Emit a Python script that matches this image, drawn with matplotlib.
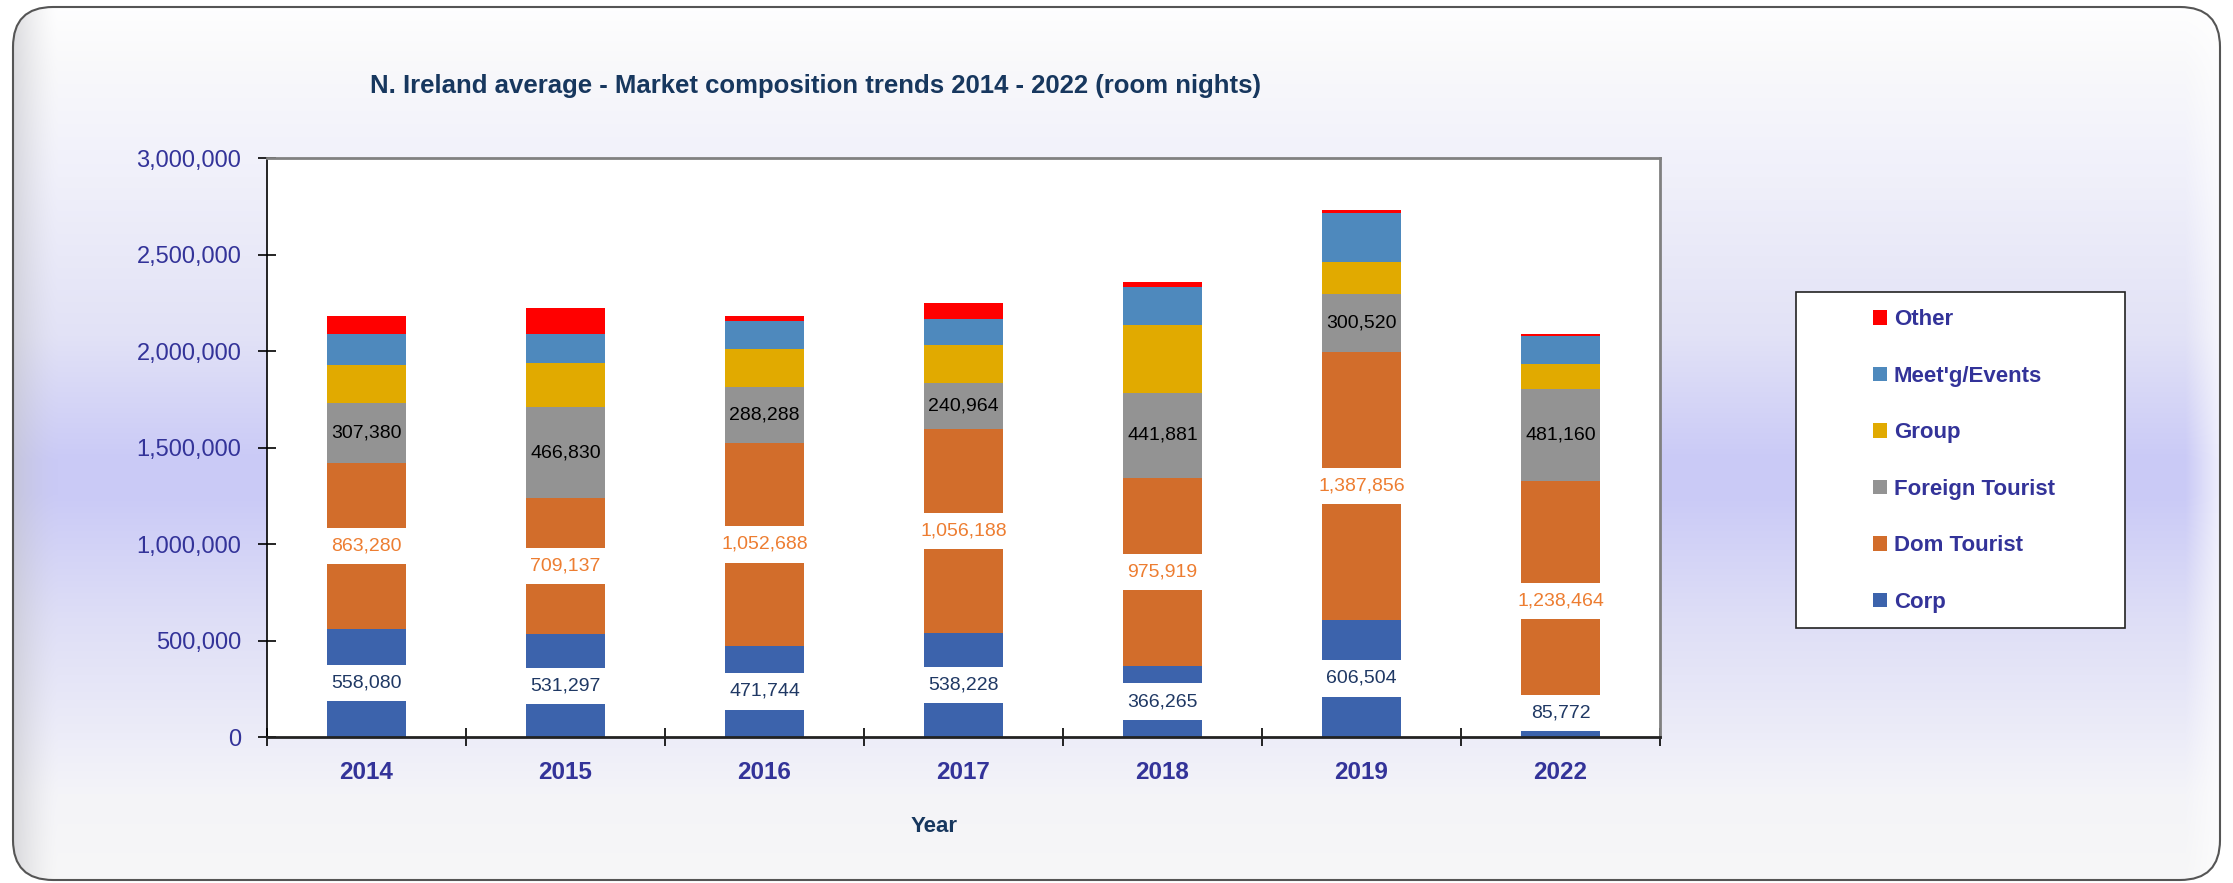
import numpy as np
import matplotlib.pyplot as plt
from matplotlib.patches import FancyBboxPatch, Rectangle
from matplotlib.ticker import FuncFormatter

plt.rcParams['font.family'] = ['Liberation Sans', 'DejaVu Sans']

# data (room nights) - labelled series, the rest
years = ['2014', '2015', '2016', '2017', '2018', '2019', '2022']
corp = [558080, 531297, 471744, 538228, 366265, 606504, 85772]
dom_tourist = [863280, 709137, 1052688, 1056188, 975919, 1387856, 1238464]
foreign_tourist = [307380, 466830, 288288, 240964, 441881, 300520, 481160]
group = [201000, 230000, 200000, 196000, 350000, 167000, 125000]
meetings = [156000, 153000, 143000, 136000, 200000, 254000, 148000]
other = [94000, 132000, 26000, 83000, 26000, 16000, 10000]

series = [
    ('Corp', corp, '#3C63AC'),
    ('Dom Tourist', dom_tourist, '#D26D2B'),
    ('Foreign Tourist', foreign_tourist, '#939393'),
    ('Group', group, '#E1AA00'),
    ("Meet'g/Events", meetings, '#4E89BD'),
    ('Other', other, '#FF0000'),
]

W, H = 2233, 883
fig = plt.figure(figsize=(W / 100, H / 100), dpi=100)
fig.patch.set_facecolor('white')

# background panel with lavender band
bg = fig.add_axes([0, 0, 1, 1], zorder=-10)
bg.set_xlim(0, W)
bg.set_ylim(H, 0)
bg.axis('off')
ys = np.linspace(0, 1, H)
stops = [0.0, 0.08, 0.2, 0.38, 0.52, 0.56, 0.70, 0.83, 0.9, 1.0]
rgb = [(255, 255, 255), (248, 248, 250), (240, 240, 250), (226, 226, 246), (202, 202, 246),
       (202, 202, 246), (222, 222, 246), (236, 236, 248), (244, 244, 248), (247, 247, 247)]
col = np.stack([np.interp(ys, stops, [c[i] for c in rgb]) for i in range(3)], axis=-1) / 255
img = np.repeat(col[:, None, :], W, axis=1)
xs = np.arange(W)
wl = (np.clip(1 - (xs - 13) / 45, 0, 1) ** 1.5 * 0.55)[None, :, None]
img = img * (1 - wl) + np.array([0.76, 0.76, 0.78]) * wl
wr = (np.clip((xs - 2185) / 35, 0, 1) * 0.7)[None, :, None]
img = img * (1 - wr) + wr
frame = FancyBboxPatch((13, 7), 2207, 873, boxstyle='round,pad=0,rounding_size=40',
                       fc='none', ec='#555555', lw=1.5)
bg.add_patch(frame)
im = bg.imshow(img, extent=[0, W, H, 0], aspect='auto', interpolation='bilinear')
im.set_clip_path(frame)
bg.add_patch(Rectangle((1796, 292), 329, 336, fc='white', ec='#222222', lw=1.2))

# main chart
ax = fig.add_axes([267 / W, 1 - 737 / H, (1660 - 267) / W, (737 - 158) / H])
ax.set_facecolor('white')
x = np.arange(len(years))
bottom = np.zeros(len(years))
handles = []
for name, vals, color in series:
    b = ax.bar(x, vals, 0.4, bottom=bottom, color=color, label=name, zorder=2)
    handles.append(b)
    vals = np.array(vals)
    if name == 'Corp':
        for xi, v, bo in zip(x, vals, bottom):
            ax.text(xi, bo + max(v / 2, 125000), f'{v:,}', ha='center', va='center',
                    fontsize=14, color='#1F3864', zorder=4,
                    bbox=dict(boxstyle='square,pad=0.5', fc='white', ec='none'))
    elif name == 'Dom Tourist':
        for xi, v, bo in zip(x, vals, bottom):
            ax.text(xi, bo + v / 2, f'{v:,}', ha='center', va='center',
                    fontsize=14, color='#ED7D31', zorder=4,
                    bbox=dict(boxstyle='square,pad=0.5', fc='white', ec='none'))
    elif name == 'Foreign Tourist':
        for xi, v, bo in zip(x, vals, bottom):
            ax.text(xi, bo + v / 2, f'{v:,}', ha='center', va='center',
                    fontsize=14, color='black', zorder=4)
    bottom += vals

ax.set_xlim(-0.5, len(years) - 0.5)
ax.set_ylim(0, 3000000)
ax.set_yticks(np.arange(0, 3000001, 500000))
ax.yaxis.set_major_formatter(FuncFormatter(lambda v, p: f'{int(v):,}'))
ax.tick_params(axis='y', direction='inout', length=13, width=1.2, pad=12,
               labelsize=17, labelcolor='#333399')
ax.set_xticks(x)
ax.set_xticklabels(years, fontsize=17.5, fontweight='bold', color='#333399')
ax.set_xticks(np.arange(-0.5, len(years), 1), minor=True)
ax.tick_params(axis='x', which='major', length=0, pad=17)
ax.tick_params(axis='x', which='minor', direction='inout', length=13, width=1.2)

for s in ['top', 'right']:
    ax.spines[s].set_color('#808080')
    ax.spines[s].set_linewidth(2)
ax.spines['left'].set_color('black')
ax.spines['left'].set_linewidth(1.2)
ax.spines['bottom'].set_color('#222222')
ax.spines['bottom'].set_linewidth(2)

fig.text(815 / W, 1 - 86 / H, 'N. Ireland average - Market composition trends 2014 - 2022 (room nights)',
         ha='center', va='center', fontsize=18.5, fontweight='bold', color='#17375E')
fig.text(934 / W, 1 - 826 / H, 'Year', ha='center', va='center',
         fontsize=16, fontweight='bold', color='#17375E')

fig.legend(handles[::-1], [s[0] for s in series][::-1], loc='center',
           bbox_to_anchor=(1964 / W, 1 - 461 / H), bbox_transform=fig.transFigure,
           frameon=False, labelcolor='#333399', prop={'weight': 'bold', 'size': 16},
           handlelength=0.64, handleheight=0.64, handletextpad=0.3, labelspacing=1.6)

fig.savefig('out.png', dpi=100)
